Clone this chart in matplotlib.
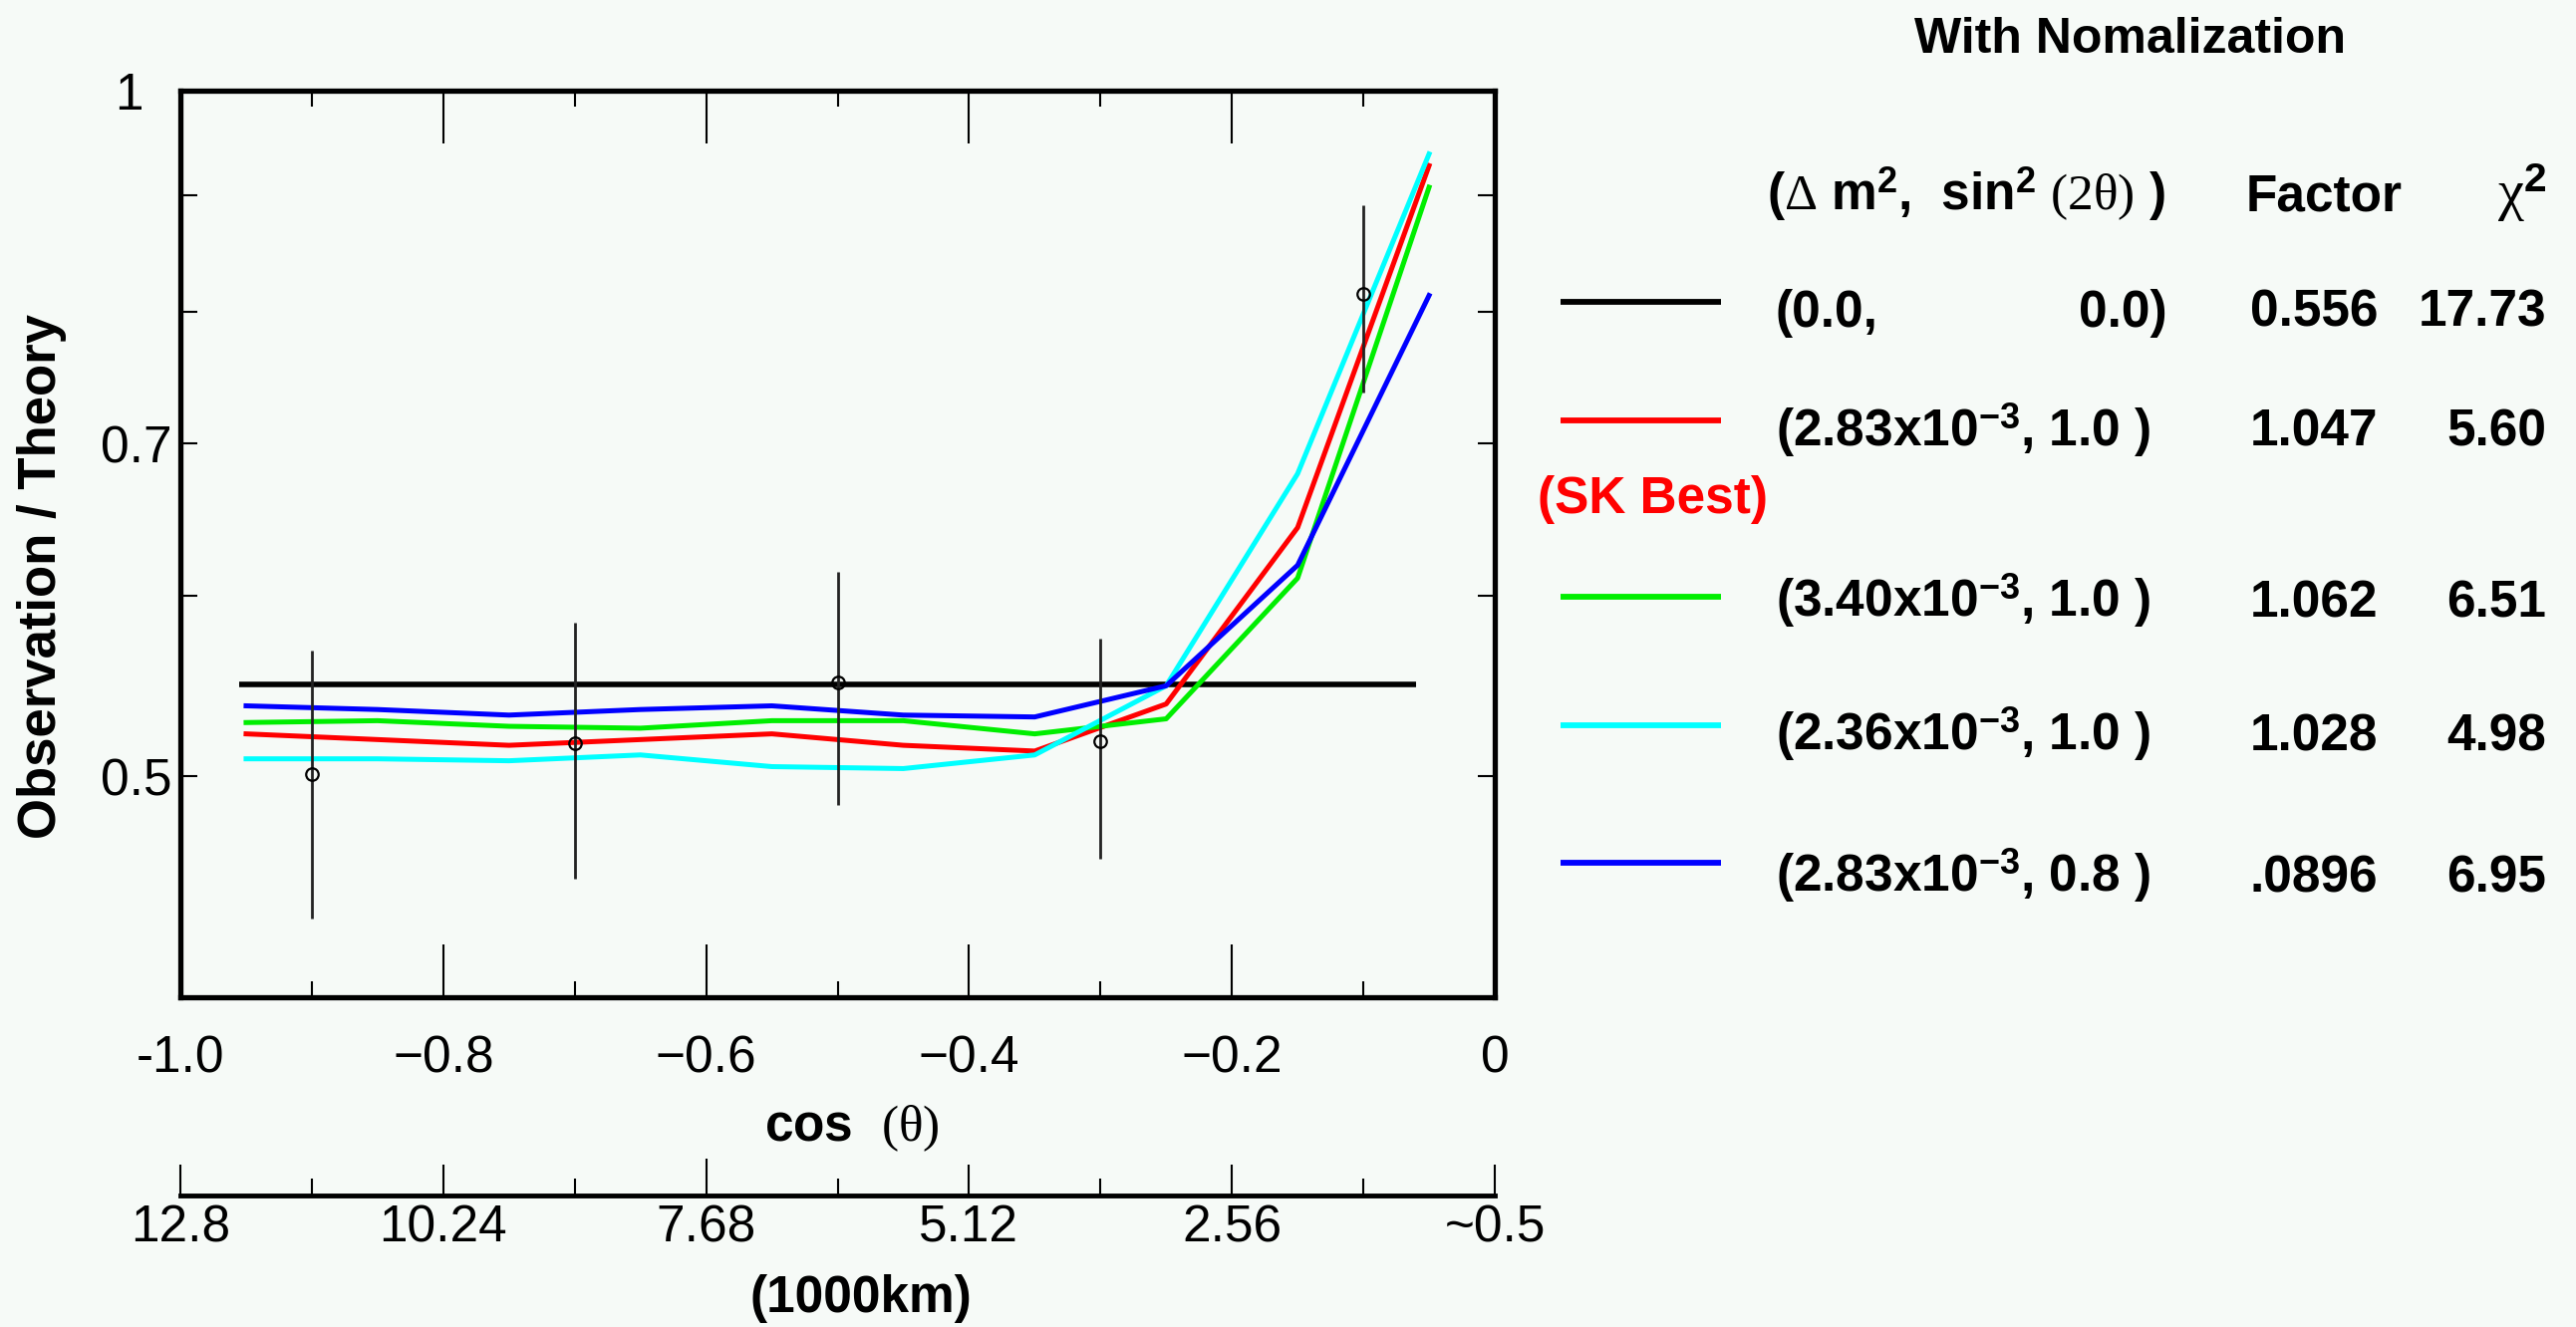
import matplotlib
matplotlib.use('Agg')
import matplotlib.pyplot as plt
from matplotlib.ticker import FixedLocator, FixedFormatter, NullFormatter

plt.rcParams['font.family'] = ['Liberation Sans', 'DejaVu Sans']
plt.rcParams['mathtext.fontset'] = 'custom'
plt.rcParams['mathtext.rm'] = 'Liberation Serif'
plt.rcParams['mathtext.it'] = 'Liberation Serif:italic'
plt.rcParams['mathtext.bf'] = 'Liberation Sans:bold'

# --- data ---
cos_bins = [-0.95, -0.85, -0.75, -0.65, -0.55, -0.45, -0.35, -0.25, -0.15, -0.05]
ratio_283_10 = [0.522, 0.519, 0.516, 0.519, 0.522, 0.516, 0.513, 0.538, 0.643, 0.927]
ratio_340_10 = [0.528, 0.529, 0.526, 0.525, 0.529, 0.529, 0.522, 0.530, 0.611, 0.907]
ratio_236_10 = [0.509, 0.509, 0.508, 0.511, 0.505, 0.504, 0.511, 0.548, 0.679, 0.938]
ratio_283_08 = [0.537, 0.535, 0.532, 0.535, 0.537, 0.532, 0.531, 0.548, 0.619, 0.813]

no_osc_cos = [-0.955, -0.06]
no_osc_ratio = [0.549, 0.549]

obs_cos = [-0.9, -0.7, -0.5, -0.3, -0.1]
obs_ratio = [0.501, 0.517, 0.550, 0.518, 0.814]
obs_upper = [0.568, 0.584, 0.615, 0.575, 0.891]
obs_lower = [0.433, 0.451, 0.486, 0.460, 0.737]

x_ticks = [-1.0, -0.8, -0.6, -0.4, -0.2, 0.0]
x_labels = ['-1.0', '\u22120.8', '\u22120.6', '\u22120.4', '\u22120.2', '0']
x_minor = [-0.9, -0.7, -0.5, -0.3, -0.1]
y_ticks = [0.5, 0.7, 1.0]
y_labels = ['0.5', '0.7', '1  ']
y_minor = [0.4, 0.6, 0.8, 0.9]
dist_labels = ['12.8', '10.24', '7.68', '5.12', '2.56', '~0.5']

leg_colors = ['black', '#ff0000', '#00ee00', '#00ffff', '#0000ff']
leg_params = ['(0.0,',
              '(2.83x10$^{\\mathbf{-3}}$, 1.0 )',
              '(3.40x10$^{\\mathbf{-3}}$, 1.0 )',
              '(2.36x10$^{\\mathbf{-3}}$, 1.0 )',
              '(2.83x10$^{\\mathbf{-3}}$, 0.8 )']
leg_factor = ['0.556', '1.047', '1.062', '1.028', '.0896']
leg_chi2 = ['17.73', '5.60', '6.51', '4.98', '6.95']

# --- layout (pixels) ---
W, H, DPI = 2585, 1332, 100
BG = '#f6faf7'
row_line_y = [303, 422, 599, 728, 866]
row_base_y = [328, 448, 619, 753, 895]


def px(x0, y0, x1, y1):
    return [x0 / W, 1 - y1 / H, (x1 - x0) / W, (y1 - y0) / H]


fig = plt.figure(figsize=(W / DPI, H / DPI), dpi=DPI, facecolor=BG)

# main plot
ax = fig.add_axes(px(181, 91, 1500, 1001))
ax.set_facecolor(BG)
ax.plot(no_osc_cos, no_osc_ratio, color='black', lw=4, solid_capstyle='butt')
ax.plot(cos_bins, ratio_283_10, color=leg_colors[1], lw=3.6)
ax.plot(cos_bins, ratio_340_10, color=leg_colors[2], lw=3.6)
ax.plot(cos_bins, ratio_236_10, color=leg_colors[3], lw=3.6)
ax.plot(cos_bins, ratio_283_08, color=leg_colors[4], lw=3.6)
yerr = [[v - lo for v, lo in zip(obs_ratio, obs_lower)],
        [hi - v for v, hi in zip(obs_ratio, obs_upper)]]
ax.errorbar(obs_cos, obs_ratio, yerr=yerr, fmt='o', ms=9, mfc='none', mec='black',
            mew=1.6, ecolor='#222222', elinewidth=2, capsize=0, zorder=5)

ax.set_yscale('log')
ax.set_xlim(-1, 0)
ax.set_ylim(0.4, 1.0)
ax.xaxis.set_major_locator(FixedLocator(x_ticks))
ax.xaxis.set_major_formatter(FixedFormatter(x_labels))
ax.xaxis.set_minor_locator(FixedLocator(x_minor))
ax.yaxis.set_major_locator(FixedLocator(y_ticks))
ax.yaxis.set_major_formatter(FixedFormatter(y_labels))
ax.yaxis.set_minor_locator(FixedLocator(y_minor))
ax.yaxis.set_minor_formatter(NullFormatter())
ax.tick_params(axis='x', which='major', direction='in', top=True, length=38, width=1.5,
               labelsize=37, pad=27)
ax.tick_params(axis='x', which='minor', direction='in', top=True, length=11.5, width=1.5)
ax.tick_params(axis='y', which='both', direction='in', right=True, length=12, width=1.5,
               labelsize=37, pad=6)
for sp in ax.spines.values():
    sp.set_linewidth(3.8)

# distance scale below
ax2 = fig.add_axes(px(181, 1190, 1500, 1200))
ax2.patch.set_visible(False)
ax2.set_xlim(-1, 0)
ax2.set_yticks([])
for side in ['top', 'left', 'right']:
    ax2.spines[side].set_visible(False)
ax2.spines['bottom'].set_linewidth(3.5)
ax2.xaxis.set_major_locator(FixedLocator(x_ticks))
ax2.xaxis.set_major_formatter(FixedFormatter(dist_labels))
ax2.xaxis.set_minor_locator(FixedLocator(x_minor))
ax2.tick_params(axis='x', which='major', direction='in', length=22, width=1.5,
                labelsize=37, pad=6)
ax2.tick_params(axis='x', which='minor', direction='in', length=12, width=1.5)
ax2.xaxis.get_major_ticks()[2].tick1line.set_markersize(27)

# overlay in pixel coordinates for labels and the legend table
lax = fig.add_axes([0, 0, 1, 1])
lax.patch.set_visible(False)
lax.set_xlim(0, W)
lax.set_ylim(H, 0)
lax.axis('off')

lax.text(42, 578, 'Observation / Theory', rotation=90, ha='center', va='center',
         fontsize=38, fontweight='bold')
lax.text(855, 1145, 'cos  $\\mathrm{(\\theta)}$', ha='center', va='baseline',
         fontsize=37, fontweight='bold')
lax.text(864, 1317, '(1000km)', ha='center', va='baseline', fontsize=37, fontweight='bold')

lax.text(2138, 53, 'With Nomalization', ha='center', va='baseline', fontsize=36,
         fontweight='bold')
lax.text(1773, 211,
         '($\\Delta$ m$^{\\mathbf{2}}$,  sin$^{\\mathbf{2}}$ $\\mathrm{(2\\theta)}$ )',
         ha='left', va='baseline', fontsize=37, fontweight='bold')
lax.text(2254, 211, 'Factor', ha='left', va='baseline', fontsize=37, fontweight='bold')
lax.text(2555, 211, '$\\mathrm{\\chi}^{\\mathbf{2}}$', ha='right', va='baseline',
         fontsize=42)

for i, c in enumerate(leg_colors):
    ly, by = row_line_y[i], row_base_y[i]
    lax.plot([1566, 1727], [ly, ly], color=c, lw=4.2, solid_capstyle='butt')
    lax.text(1782, by, leg_params[i], ha='left', va='baseline', fontsize=37,
             fontweight='bold')
    lax.text(2386, by, leg_factor[i], ha='right', va='baseline', fontsize=37,
             fontweight='bold')
    lax.text(2555, by, leg_chi2[i], ha='right', va='baseline', fontsize=37,
             fontweight='bold')
lax.text(2175, row_base_y[0], '0.0)', ha='right', va='baseline', fontsize=37,
         fontweight='bold')
lax.text(1543, 515, '(SK Best)', ha='left', va='baseline', fontsize=37,
         fontweight='bold', color='#ff0000')

fig.savefig('out.png', dpi=DPI, facecolor=BG)
